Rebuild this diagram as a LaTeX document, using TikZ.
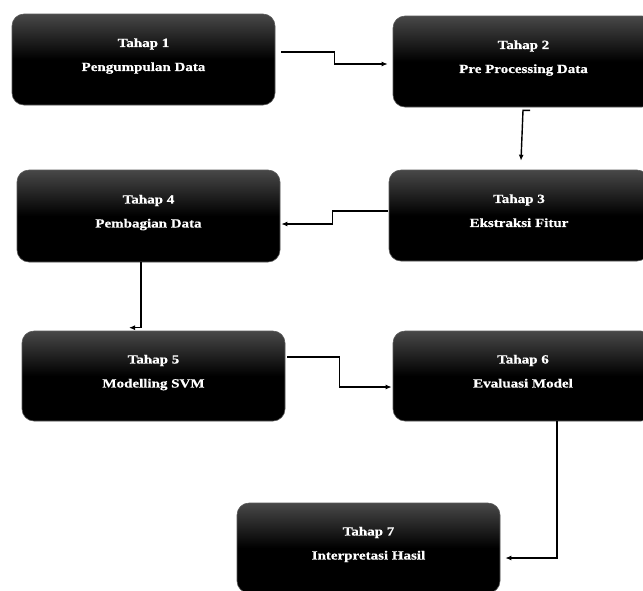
\documentclass[tikz,border=0pt]{standalone}
\usepackage{fontspec}
\newfontfamily\stagefont[FakeStretch=1.2,BoldFeatures={FakeBold=0.6}]{Liberation Serif}
\usetikzlibrary{arrows,arrows.meta,calc}
\definecolor{StageGray}{HTML}{484848}
\newcommand{\stagetext}[2]{Tahap #1\\#2\rule[-9.7pt]{0pt}{0pt}}
\tikzset{
    stage/.style = {rectangle, rounded corners=12pt,
        draw=black!65, line width=0.6pt,
        top color=StageGray, bottom color=black, middle color=black,
        minimum width=263pt, minimum height=91pt, align=center,
        text=white, font=\stagefont\bfseries\fontsize{12.5}{24}\selectfont},
    arrow/.style = {draw, -{Latex[length=6pt,width=5pt]}, line width=1.4pt}
}

\begin{document}
\begin{tikzpicture}[x=1pt,y=-1pt]
                    \useasboundingbox (0,0) rectangle (643,590);
                    \clip (0,0) rectangle (643,590);
                    \node[stage] at (143.5,59.5) (b1) {\stagetext{1}{Pengumpulan Data}};
                    \node[stage,minimum width=261pt] at (523.5,61.5) (b2) {\stagetext{2}{Pre Processing Data}};
                    \node[stage,minimum width=260pt] at (519,215.5) (b3) {\stagetext{3}{Ekstraksi Fitur}};
                    \node[stage,minimum height=92pt] at (148.5,216) (b4) {\stagetext{4}{Pembagian Data}};
                    \node[stage,minimum height=90pt] at (153.5,376) (b5) {\stagetext{5}{Modelling SVM}};
                    \node[stage,minimum width=260pt,minimum height=90pt] at (523,376) (b6) {\stagetext{6}{Evaluasi Model}};
                    \node[stage,minimum height=90pt] at (368.5,548) (b7) {\stagetext{7}{Interpretasi Hasil}};
                    \draw[arrow] ([xshift=6pt,yshift=7.5pt]b1.east) -- ++(53,0) |- ([xshift=-5pt,yshift=-2.5pt]b2.west);
                    \draw[arrow] ([xshift=6.5pt,yshift=-3pt]b2.south) -- ++(-7,0) -- ([xshift=2pt,yshift=9pt]b3.north);
                    \draw[arrow] ([xshift=-1pt,yshift=4.5pt]b3.west) -- ++(-55,0) |- ([xshift=1pt,yshift=-8pt]b4.east);
                    \draw[arrow] ([xshift=-7.5pt]b4.south) |- ([xshift=-24.5pt,yshift=3pt]b5.north);
                    \draw[arrow] ([xshift=2pt,yshift=19pt]b5.east) -- ++(52,0) |- ([xshift=-1pt,yshift=-11pt]b6.west);
                    \draw[arrow] ([xshift=34pt]b6.south) |- ([xshift=5pt,yshift=-10pt]b7.east);
                    \end{tikzpicture}
\end{document}
